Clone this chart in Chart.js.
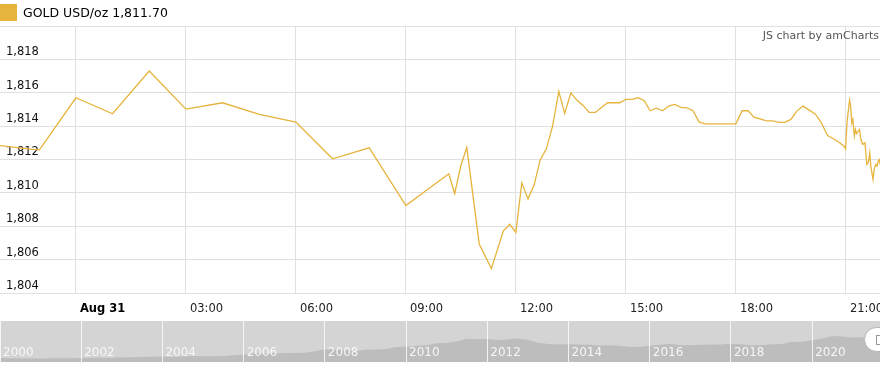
<!DOCTYPE html>
<html>
<head>
<meta charset="utf-8">
<title>GOLD USD/oz</title>
<script src="https://cdn.jsdelivr.net/npm/chart.js@4.4.1/dist/chart.umd.min.js"></script>
<style>
  body { margin: 0; background: #fff; }
  #wrap { position: relative; width: 880px; height: 369px; overflow: hidden; }
  #goldChart { position: absolute; left: 0; top: 0; }
  #navChart { position: absolute; left: 0; top: 321px; background: #d4d4d4; }
</style>
</head>
<body>
<div id="wrap">
  <canvas id="goldChart" width="880" height="321"></canvas>
  <canvas id="navChart" width="880" height="41"></canvas>
</div>
<script>
// intraday gold price, x = hours since Aug 31 00:00
const hours = [
  -2.1, -1, 0, 1, 2, 3, 4, 5, 6, 7, 8, 9,
  10.17, 10.33, 10.5, 10.66, 11, 11.33, 11.66, 11.83, 12, 12.16, 12.33, 12.5, 12.66, 12.83,
  13, 13.17, 13.33, 13.5, 13.66, 13.83, 14, 14.17, 14.33, 14.5, 14.66, 14.83,
  15, 15.17, 15.33, 15.5, 15.66, 15.83, 16, 16.17, 16.33, 16.5, 16.66, 16.83,
  17, 17.17, 17.5, 17.83, 18, 18.17, 18.33, 18.5, 18.66, 18.83,
  19, 19.17, 19.33, 19.5, 19.66, 19.83, 20, 20.17, 20.33, 20.5, 20.66, 20.83, 20.95, 20.99,
  21.03, 21.06, 21.10, 21.13, 21.16, 21.19, 21.23, 21.26, 21.29, 21.34, 21.37, 21.41,
  21.46, 21.52, 21.57, 21.61, 21.65, 21.68, 21.74, 21.77, 21.81, 21.85, 21.88, 21.92, 21.93
];
const prices = [
  1812.84, 1812.56, 1815.70, 1814.74, 1817.30, 1815.02, 1815.40, 1814.70, 1814.24, 1812.04, 1812.70, 1809.24,
  1811.14, 1809.96, 1811.64, 1812.72, 1806.94, 1805.46, 1807.72, 1808.12, 1807.64, 1810.60, 1809.64, 1810.50, 1811.96, 1812.64,
  1814.00, 1816.08, 1814.76, 1816.00, 1815.56, 1815.24, 1814.82, 1814.82, 1815.12, 1815.40, 1815.40, 1815.40,
  1815.60, 1815.60, 1815.70, 1815.52, 1814.92, 1815.08, 1814.92, 1815.20, 1815.30, 1815.12, 1815.10, 1814.92,
  1814.24, 1814.14, 1814.14, 1814.14, 1814.14, 1814.92, 1814.92, 1814.52, 1814.44, 1814.32,
  1814.32, 1814.22, 1814.22, 1814.40, 1814.90, 1815.20, 1814.96, 1814.72, 1814.20, 1813.44, 1813.24, 1813.00, 1812.80, 1812.64,
  1814.20, 1814.80, 1815.56, 1815.20, 1814.20, 1814.40, 1813.40, 1813.80, 1813.56, 1813.70, 1813.80, 1813.20,
  1812.90, 1813.00, 1811.70, 1811.80, 1812.40, 1811.60, 1810.80, 1811.40, 1811.70, 1811.60, 1811.90, 1812.00, 1811.70
];
const hourTicks = [0, 3, 6, 9, 12, 15, 18, 21];
const hourLabels = ['Aug 31', '03:00', '06:00', '09:00', '12:00', '15:00', '18:00', '21:00'];
const priceTicks = [1804, 1806, 1808, 1810, 1812, 1814, 1816, 1818, 1820];

// navigator: quarterly average gold price 2000 Q1 .. 2021 Q4
const navPrices = [
  290, 280, 277, 270,   263, 268, 274, 279,   290, 313, 314, 320,   352, 347, 363, 392,
  408, 393, 401, 434,   427, 427, 440, 485,   554, 628, 622, 614,   650, 667, 680, 788,
  925, 896, 870, 795,   908, 922, 960, 1100,  1110, 1197, 1227, 1367, 1386, 1506, 1702, 1688,
  1691, 1609, 1652, 1722, 1632, 1415, 1326, 1272, 1293, 1288, 1282, 1201, 1218, 1192, 1124, 1105,
  1183, 1260, 1335, 1222, 1219, 1257, 1278, 1275, 1329, 1306, 1213, 1226, 1304, 1310, 1472, 1481,
  1583, 1711, 1909, 1874, 1794, 1816, 1790, 1800
];
const yearTicks = [2000, 2002, 2004, 2006, 2008, 2010, 2012, 2014, 2016, 2018, 2020];

const gold = '#e6b43c';
const font = 'DejaVu Sans';

const header = {
  id: 'header',
  afterDraw(chart) {
    const ctx = chart.ctx;
    const last = prices[prices.length - 1].toLocaleString('en-US', { minimumFractionDigits: 2 });
    ctx.save();
    ctx.fillStyle = gold;
    ctx.fillRect(0, 4, 17, 17);
    ctx.fillStyle = '#000';
    ctx.font = '12.5px "' + font + '"';
    ctx.textBaseline = 'middle';
    ctx.fillText('GOLD USD/oz ' + last, 23, 14);
    ctx.fillStyle = '#555';
    ctx.font = '11px "' + font + '"';
    ctx.textAlign = 'right';
    ctx.fillText('JS chart by amCharts', 879, 36);
    ctx.restore();
  }
};

new Chart(document.getElementById('goldChart'), {
  type: 'line',
  data: {
    datasets: [{
      label: 'GOLD USD/oz',
      data: hours.map((h, i) => ({ x: h, y: prices[i] })),
      borderColor: gold,
      borderWidth: 1.3,
      pointRadius: 0,
      tension: 0,
      fill: false
    }]
  },
  options: {
    responsive: false,
    animation: false,
    devicePixelRatio: 1,
    layout: { padding: { top: 26, left: 0, right: 0, bottom: 0 } },
    plugins: { legend: { display: false }, tooltip: { enabled: false } },
    scales: {
      x: {
        type: 'linear',
        min: -2.07,
        max: 21.93,
        afterBuildTicks: s => { s.ticks = hourTicks.map(v => ({ value: v })); },
        afterFit: s => { s.height = 28; s.paddingLeft = 0; s.paddingRight = 0; },
        grid: { color: '#e0e0e0', drawTicks: false },
        border: { display: false },
        ticks: {
          autoSkip: false,
          maxRotation: 0,
          align: 'start',
          labelOffset: 4,
          padding: 9,
          color: c => c.index === 0 ? '#000' : '#222',
          font: c => ({ family: font, size: 11.5, weight: c.index === 0 ? 'bold' : 'normal' }),
          callback: (v, i) => hourLabels[i]
        }
      },
      y: {
        min: 1804,
        max: 1820,
        afterBuildTicks: s => { s.ticks = priceTicks.map(v => ({ value: v })); },
        afterFit: s => { s.width = 0; s.paddingTop = 0; s.paddingBottom = 0; },
        grid: { color: '#e0e0e0', drawTicks: false },
        border: { display: false },
        ticks: {
          mirror: true,
          padding: 6,
          labelOffset: -7,
          color: '#111',
          font: { family: font, size: 11.5 },
          callback: v => v === 1820 ? '' : v.toLocaleString('en-US')
        }
      }
    }
  },
  plugins: [header]
});

// year labels and scrollbar grip drawn on top of the navigator area
const navDecor = {
  id: 'navDecor',
  afterDraw(chart) {
    const ctx = chart.ctx;
    const xs = chart.scales.x;
    ctx.save();
    ctx.fillStyle = '#f6f6f6';
    ctx.font = '12px "' + font + '"';
    ctx.textBaseline = 'middle';
    yearTicks.forEach(y => {
      ctx.fillText(String(y), xs.getPixelForValue(y) + 3, 32);
    });
    ctx.beginPath();
    ctx.roundRect(864.5, 6.5, 30, 24, 12);
    ctx.fillStyle = '#fff';
    ctx.fill();
    ctx.strokeStyle = '#b5b5b5';
    ctx.lineWidth = 1;
    ctx.stroke();
    ctx.strokeStyle = '#999';
    ctx.strokeRect(876.5, 14.5, 6, 9);
    ctx.restore();
  }
};

new Chart(document.getElementById('navChart'), {
  type: 'line',
  data: {
    datasets: [{
      data: navPrices.map((p, i) => ({ x: 2000 + i / 4, y: p })),
      borderWidth: 0,
      borderColor: 'rgba(0,0,0,0)',
      backgroundColor: '#bdbdbd',
      fill: 'origin',
      pointRadius: 0,
      tension: 0
    }]
  },
  options: {
    responsive: false,
    animation: false,
    devicePixelRatio: 1,
    layout: { padding: 0 },
    plugins: { legend: { display: false }, tooltip: { enabled: false } },
    scales: {
      x: {
        type: 'linear',
        min: 2000,
        max: 2021.67,
        afterBuildTicks: s => { s.ticks = yearTicks.map(v => ({ value: v })); },
        afterFit: s => { s.height = 0; s.paddingLeft = 0; s.paddingRight = 0; },
        grid: { color: 'rgba(255,255,255,0.8)', drawTicks: false, z: 1 },
        border: { display: false },
        ticks: { display: false }
      },
      y: { display: false, min: 0, max: 3000 }
    }
  },
  plugins: [navDecor]
});
</script>
</body>
</html>
